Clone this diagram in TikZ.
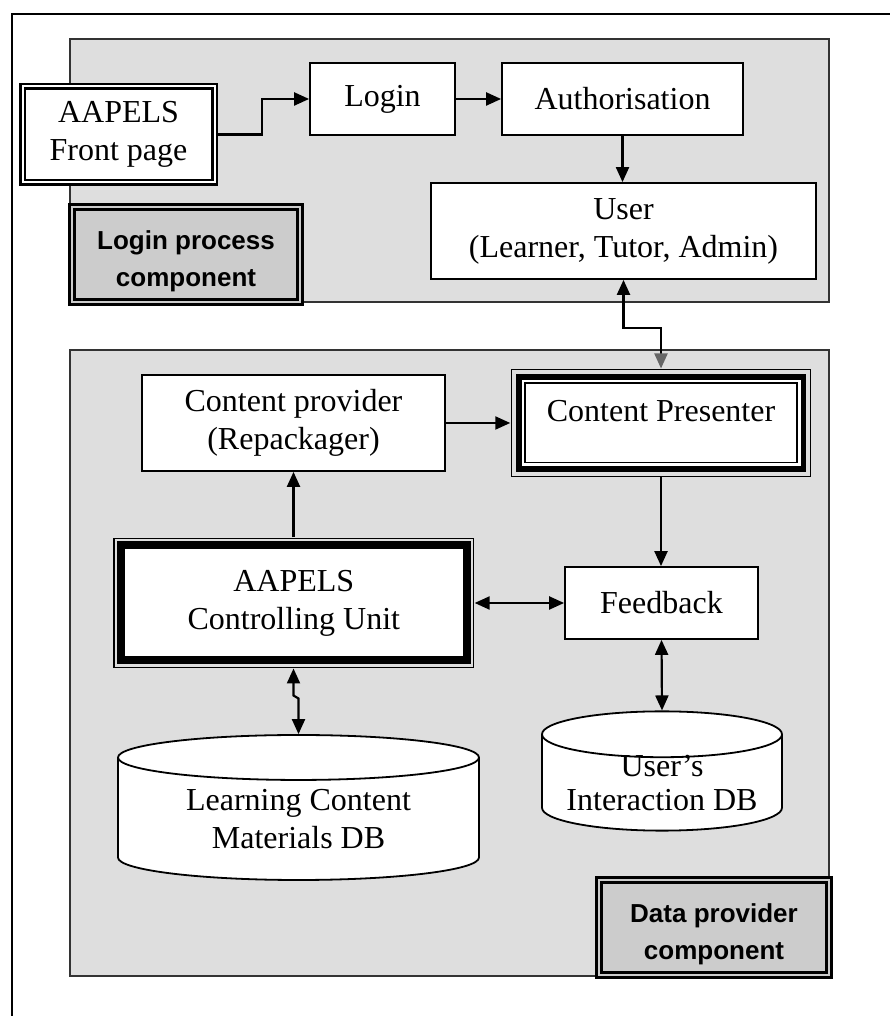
\documentclass[tikz,border=0pt]{standalone}
\usepackage{fontspec}
\setmainfont{Liberation Serif}
\setsansfont{Liberation Sans}
\usetikzlibrary{positioning}
\usetikzlibrary{shapes.geometric}
\usetikzlibrary{arrows.meta}
\definecolor{panelgray}{gray}{0.87}
\definecolor{taggray}{gray}{0.80}

\begin{document}
\begin{tikzpicture}[x=1pt,y=1pt,
        every node/.style={font=\fontsize{32}{38}\selectfont, align=center},
        box/.style={draw, fill=white, line width=1.8pt, inner sep=0pt},
        dblbox/.style={box, double=white, line width=2.5pt, double distance=2pt, outer sep=3.5pt},
        tag/.style={draw, fill=taggray, double=taggray, line width=3pt, double distance=2pt,
            inner sep=0pt, text height=70pt, font=\fontsize{26}{37}\selectfont\sffamily\bfseries},
        db/.style={draw, fill=white, line width=1.8pt, inner sep=0pt, cylinder, shape border rotate=90, anchor=shape center},
        arr/.style={-{Triangle[length=15pt,width=13pt]}, line width=2.2pt},
        biarr/.style={{Triangle[length=15pt,width=13pt]}-{Triangle[length=15pt,width=13pt]}, line width=2.2pt}]
        \useasboundingbox (0,0) rectangle (889,1016);
        \draw[line width=2pt] (12,-10) |- (900,1002);
        % the two components
        \draw[fill=panelgray, draw=black!80, line width=1.4pt] (70,977) rectangle (829,714);
        \draw[fill=panelgray, draw=black!80, line width=1.4pt] (70,666) rectangle (829,40);
        % login process
        \node[dblbox, minimum width=192pt, minimum height=96pt] (front) at (118.5,881.5) {AAPELS\\Front page};
        \node[box, minimum width=145pt, minimum height=72pt] (login) at (382.5,917) {Login};
        \node[box, minimum width=241pt, minimum height=72pt] (auth) at (622.5,917) {Authorisation};
        \node[box, minimum width=385pt, minimum height=96pt] (user) at (623.5,785) {User\\(Learner, Tutor, Admin)};
        \node[tag, minimum width=228pt, minimum height=95pt] (logintag) at (186,761.5) {Login process\\component};
        % data provider
        \node[box, minimum width=303pt, minimum height=96pt] (provider) at (293.5,593) {Content provider\\(Repackager)};
        \node[box, line width=5.5pt, outer sep=8.5pt, minimum width=284.5pt, minimum height=92pt, text depth=24pt] (presenter) at (661,593) {Content Presenter};
        \draw[line width=1.4pt] ([shift={(1pt,-1pt)}]presenter.north west) rectangle ([shift={(-1pt,1pt)}]presenter.south east);
        \draw[line width=1.4pt] ([shift={(14.7pt,-14.7pt)}]presenter.north west) rectangle ([shift={(-14.7pt,14.7pt)}]presenter.south east);
        \node[box, line width=8pt, outer sep=8pt, minimum width=345.7pt, minimum height=115pt] (unit) at (293.8,413) {AAPELS\\Controlling Unit};
        \draw[line width=1.4pt] ([shift={(1pt,-1pt)}]unit.north west) rectangle ([shift={(-1pt,1pt)}]unit.south east);
        \node[box, minimum width=193pt, minimum height=72pt] (feedback) at (661.5,413) {Feedback};
        \node[db, minimum width=361pt, minimum height=145pt, aspect=0.2] (lcdb) at (298.5,208.5) {Learning Content\\Materials DB};
        \node[db, minimum width=240pt, minimum height=118pt, aspect=0.24, inner ysep=-3pt, font=\fontsize{32}{34}\selectfont] (uidb) at (662,245) {User's\\Interaction DB};
        \node[tag, minimum width=230pt, minimum height=95pt] (datatag) at (714,88.5) {Data provider\\component};
        % connectors
        \draw[arr] (front.east) -- ++(44,0) |- (login.west);
        \draw[arr] (login) -- (auth);
        \draw[arr] (auth.south) -- (auth.south |- user.north);
        \draw[{Triangle[length=15pt,width=13pt]}-{Triangle[length=15pt,width=13pt,color=black!60]}, line width=2.2pt]
            (user.south) -- ++(0,-48) -| (presenter.north);
        \draw[arr] (provider.east) -- (presenter.west);
        \draw[arr] (unit.north -| provider.south) -- (provider.south);
        \draw[arr] (presenter.south) -- (presenter.south |- feedback.north);
        \draw[biarr] (unit.east) -- (feedback.west);
        \draw[biarr] (feedback.south) -- (uidb.north);
        \draw[biarr] (provider.south |- unit.south) -- ++(0,-27) -- ++(5,-3) -- (lcdb.north);
    \end{tikzpicture}
\end{document}
